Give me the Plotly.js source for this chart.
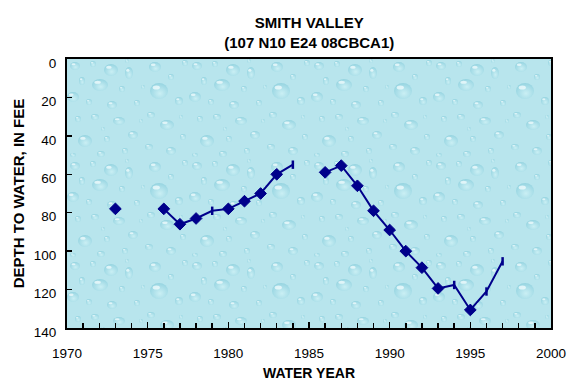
<!DOCTYPE html>
<html>
<head>
<meta charset="utf-8">
<script src="https://cdn.plot.ly/plotly-3.0.1.min.js"></script>
<style>
  html, body { margin: 0; padding: 0; background: #ffffff; }
  #chart { width: 569px; height: 384px; }
</style>
</head>
<body>
<div id="chart"></div>
<script>
// Water years with a depth reading (null = no measurement that year)
const waterYears = [1973, 1974, 1975, 1976, 1977, 1978, 1979, 1980, 1981, 1982, 1983, 1984,
                    1985, 1986, 1987, 1988, 1989, 1990, 1991, 1992, 1993, 1994, 1995, 1996, 1997];
// Depth to water, in feet below land surface
const depthFeet = [78, null, null, 78, 86, 83, 79, 78, 74, 70, 60, 55,
                   null, 59, 55.5, 66, 79, 89, 100, 108.6, 119.4, 117.6, 130.6, 121, 105.3];
// Years whose reading is shown with a bar rather than a diamond
const barYears = [1979, 1984, 1994, 1996, 1997];

const titleLines = ['SMITH VALLEY', '(107 N10 E24 08CBCA1)'];
const xTickVals = [1970, 1975, 1980, 1985, 1990, 1995, 2000];
const yTickVals = [0, 20, 40, 60, 80, 100, 120, 140];

const NAVY = '#00008b';
const FONT = 'Liberation Sans, Arial, sans-serif';

// Split the readings by symbol
const diamondX = [], diamondY = [], barX = [], barY = [];
waterYears.forEach((yr, i) => {
  const d = depthFeet[i];
  if (d === null) return;
  if (barYears.includes(yr)) { barX.push(yr); barY.push(d); }
  else { diamondX.push(yr); diamondY.push(d); }
});

// Water-drop texture for the plotting area
function dropTexture() {
  const drops = [
    [8, 7, 5, 4], [26, 5, 3, 3], [44, 11, 7, 6], [15, 22, 3, 4], [33, 26, 8, 6],
    [55, 30, 3, 3], [6, 38, 6, 5], [22, 43, 3, 3], [45, 46, 5, 4], [62, 14, 4, 6],
    [70, 44, 3, 3], [28, 58, 4, 3], [11, 60, 3, 3], [52, 62, 6, 4], [76, 28, 2, 2],
    [88, 8, 6, 5], [104, 18, 3, 3], [92, 32, 9, 8], [112, 42, 4, 4], [84, 56, 4, 3],
    [100, 66, 7, 5], [116, 78, 3, 3], [66, 76, 5, 4], [40, 80, 3, 3], [18, 82, 7, 6],
    [82, 88, 4, 3], [58, 92, 3, 3], [104, 92, 5, 4], [6, 96, 3, 2], [34, 95, 4, 3],
    [74, 62, 2, 2], [36, 70, 2, 2], [118, 4, 3, 3], [60, 2, 2, 2], [114, 58, 2, 2]
  ];
  let shapes = '';
  drops.forEach(([cx, cy, rx, ry]) => {
    shapes += `<ellipse cx='${cx}' cy='${cy}' rx='${rx}' ry='${ry}' fill='url(%23g)'/>`;
    shapes += `<ellipse cx='${cx - rx * 0.3}' cy='${cy - ry * 0.45}' rx='${rx * 0.4}' ry='${ry * 0.25}' fill='%23f2fcfd' fill-opacity='0.75'/>`;
  });
  const svg =
    `<svg xmlns='http://www.w3.org/2000/svg' width='484' height='269'>` +
    `<defs><radialGradient id='g' cx='0.55' cy='0.65' r='0.75'>` +
    `<stop offset='0' stop-color='%23caeff4'/><stop offset='0.65' stop-color='%23a3dbe6'/>` +
    `<stop offset='1' stop-color='%238ccfdc'/></radialGradient>` +
    `<pattern id='p' width='122' height='100' patternUnits='userSpaceOnUse'>` +
    `<rect width='122' height='100' fill='%23b8e5ed'/>` + shapes +
    `</pattern></defs><rect width='484' height='269' fill='url(%23p)'/></svg>`;
  return 'data:image/svg+xml;charset=utf-8,' + svg.replace(/</g, '%3C').replace(/>/g, '%3E');
}

const traces = [
  {
    x: waterYears, y: depthFeet, type: 'scatter', mode: 'lines',
    connectgaps: false,
    line: { color: NAVY, width: 2 },
    hoverinfo: 'skip', showlegend: false
  },
  {
    x: diamondX, y: diamondY, type: 'scatter', mode: 'markers',
    marker: { symbol: 'diamond', size: 9, color: NAVY, line: { color: NAVY, width: 1 } },
    showlegend: false
  },
  {
    x: barX, y: barY, type: 'scatter', mode: 'markers',
    marker: { symbol: 'line-ns', size: 6, color: NAVY, line: { color: NAVY, width: 2.5 } },
    showlegend: false
  }
];

const layout = {
  width: 569, height: 384,
  margin: { l: 67, r: 18, t: 59, b: 56 },
  paper_bgcolor: '#ffffff',
  plot_bgcolor: 'rgba(0,0,0,0)',
  font: { family: FONT, color: '#000000', size: 13.5 },
  title: {
    text: titleLines.join('<br>'),
    font: { family: FONT, size: 15, color: '#000000', weight: 'bold' },
    x: 0.5435, xanchor: 'center',
    y: 0.927, yanchor: 'middle'
  },
  xaxis: {
    range: [1970, 2000],
    tickvals: xTickVals,
    ticks: 'inside', ticklen: 6, tickwidth: 1.5, tickcolor: '#000',
    minor: { dtick: 1, ticks: 'inside', ticklen: 5, tickwidth: 1.5, tickcolor: '#000' },
    showline: true, linecolor: '#000', linewidth: 2, mirror: true,
    showgrid: false, zeroline: false,
    ticklabelstandoff: 12,
    tickfont: { family: FONT, size: 13.5 },
    title: { text: 'WATER YEAR', font: { family: FONT, size: 14, weight: 'bold' }, standoff: 8 }
  },
  yaxis: {
    range: [140, 0],
    tickvals: yTickVals,
    ticks: 'inside', ticklen: 5, tickwidth: 1.5, tickcolor: '#000',
    showline: true, linecolor: '#000', linewidth: 2, mirror: true,
    showgrid: false, zeroline: false,
    ticklabelstandoff: 6,
    ticklabelshift: -4,
    tickfont: { family: FONT, size: 13.5 },
    title: { text: 'DEPTH TO WATER, IN FEE', font: { family: FONT, size: 15, weight: 'bold' }, standoff: 6 }
  },
  images: [{
    source: dropTexture(),
    xref: 'paper', yref: 'paper', x: 0, y: 1, sizex: 1, sizey: 1,
    xanchor: 'left', yanchor: 'top', sizing: 'stretch', layer: 'below'
  }]
};

Plotly.newPlot('chart', traces, layout, { displayModeBar: false, staticPlot: true });
</script>
</body>
</html>
